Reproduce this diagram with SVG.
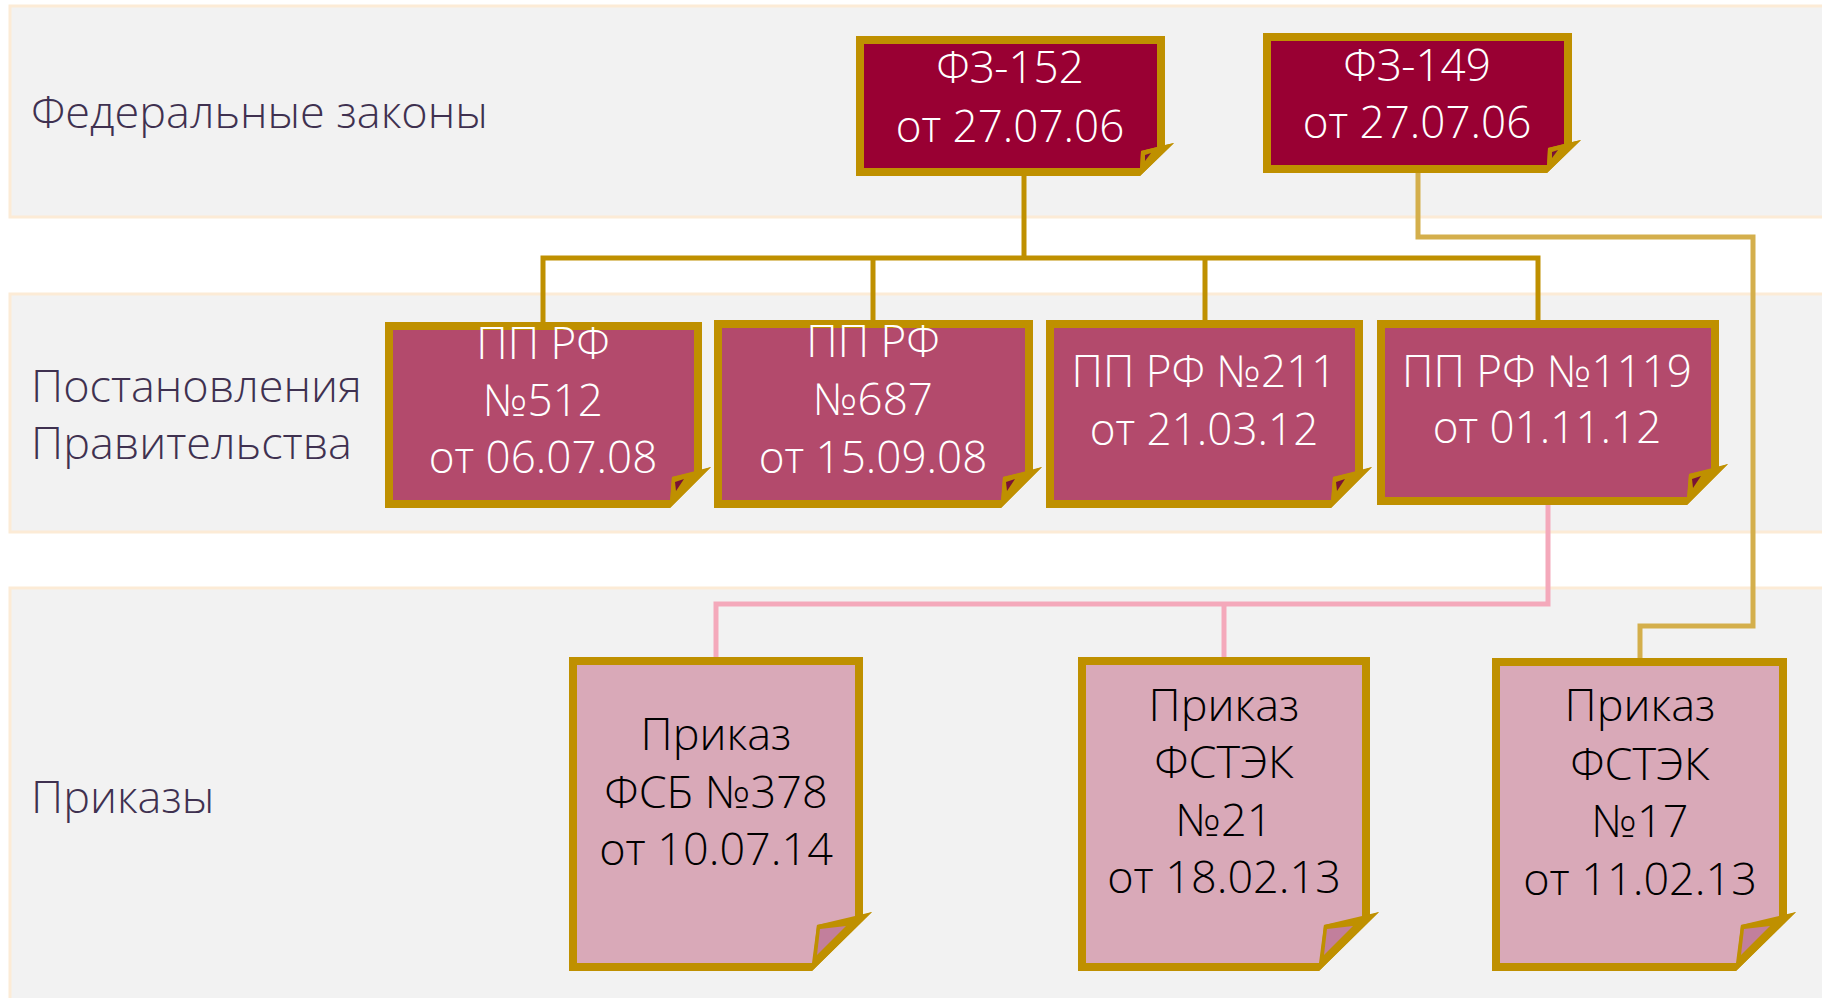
<svg xmlns="http://www.w3.org/2000/svg" width="1822" height="998" viewBox="0 0 1822 998">
<style>
.band{fill:#f2f2f2;stroke:#fcebd6;stroke-width:3}
.lbl{font-family:"Open Sans","Noto Sans",sans-serif;font-size:45px;fill:#3f3150;font-weight:300}
.gold{fill:#bf9000}
.fz{fill:#990033}
.pp{fill:#b34a6c}
.pr{fill:#d9a9b8}
.dk{fill:#7a1236}
.mv{fill:#c27f9c}
.tw{font-family:"Open Sans","Noto Sans",sans-serif;font-size:44px;fill:#ffffff;text-anchor:middle;font-weight:300}
.tb{font-family:"Open Sans","Noto Sans",sans-serif;font-size:45px;fill:#000000;text-anchor:middle;font-weight:300}
.c1{fill:none;stroke:#bf9000;stroke-width:5}
.c2{fill:none;stroke:#d4af4c;stroke-width:5}
.c3{fill:none;stroke:#f4a9bb;stroke-width:5}
</style>
<rect width="1822" height="998" fill="#ffffff"/>
<g id="bands">
<rect class="band" x="10" y="6" width="1820" height="211"/>
<rect class="band" x="10" y="294" width="1820" height="238"/>
<rect class="band" x="10" y="588" width="1820" height="420"/>
<text class="lbl" x="31" y="128">Федеральные законы</text>
<text class="lbl" x="31" y="402">Постановления</text>
<text class="lbl" x="31" y="459">Правительства</text>
<text class="lbl" x="31" y="813">Приказы</text>
</g>
<g id="connectors">
<path class="c1" d="M543,322 V258 H1538 V320 M873,258 V320 M1205,258 V320 M1024,176 V258"/>
<path class="c2" d="M1418,173 V237 H1753 V626 H1640 V658"/>
<path class="c3" d="M1548,505 V604 H716 V657 M1224,604 V657"/>
</g>
<g id="fz152">
<polygon class="gold" points="856,36 1165,36 1165,145 1174,143 1140,176 856,176"/>
<polygon class="fz" points="864,44 1157,44 1157,147 1141,151 1140,168 864,168"/>
<polygon class="gold" points="1140,176 1141,151 1174,143"/>
<polygon class="dk" points="1145,155 1151,153 1145,161"/>
<text class="tw" x="1010" y="83">ФЗ-152</text>
<text class="tw" x="1010" y="142">от 27.07.06</text>
</g>
<g id="fz149">
<polygon class="gold" points="1263,33 1572,33 1572,142 1581,140 1547,173 1263,173"/>
<polygon class="fz" points="1271,41 1564,41 1564,144 1548,148 1547,165 1271,165"/>
<polygon class="gold" points="1547,173 1548,148 1581,140"/>
<polygon class="dk" points="1552,152 1558,150 1552,158"/>
<text class="tw" x="1417" y="81">ФЗ-149</text>
<text class="tw" x="1417" y="138">от 27.07.06</text>
</g>
<g id="pp512">
<polygon class="gold" points="385,322 702,322 702,470 711,467 670,508 385,508"/>
<polygon class="pp" points="393,330 694,330 694,472 672,477 670,500 393,500"/>
<polygon class="gold" points="670,508 672,477 711,467"/>
<polygon class="dk" points="675,482 684,479 676,491"/>
<text class="tw" x="543" y="359">ПП РФ</text>
<text class="tw" x="543" y="416">№512</text>
<text class="tw" x="543" y="473">от 06.07.08</text>
</g>
<g id="pp687">
<polygon class="gold" points="714,320 1033,320 1033,470 1042,467 1001,508 714,508"/>
<polygon class="pp" points="722,328 1025,328 1025,472 1003,477 1001,500 722,500"/>
<polygon class="gold" points="1001,508 1003,477 1042,467"/>
<polygon class="dk" points="1006,482 1015,479 1007,491"/>
<text class="tw" x="873" y="357">ПП РФ</text>
<text class="tw" x="873" y="415">№687</text>
<text class="tw" x="873" y="473">от 15.09.08</text>
</g>
<g id="pp211">
<polygon class="gold" points="1046,320 1363,320 1363,470 1372,467 1331,508 1046,508"/>
<polygon class="pp" points="1054,328 1355,328 1355,472 1333,477 1331,500 1054,500"/>
<polygon class="gold" points="1331,508 1333,477 1372,467"/>
<polygon class="dk" points="1336,482 1345,479 1337,491"/>
<text class="tw" x="1204" y="387">ПП РФ №211</text>
<text class="tw" x="1204" y="445">от 21.03.12</text>
</g>
<g id="pp1119">
<polygon class="gold" points="1377,320 1719,320 1719,467 1728,464 1687,505 1377,505"/>
<polygon class="pp" points="1385,328 1711,328 1711,469 1689,474 1687,497 1385,497"/>
<polygon class="gold" points="1687,505 1689,474 1728,464"/>
<polygon class="dk" points="1692,479 1701,476 1693,488"/>
<text class="tw" x="1547" y="387">ПП РФ №1119</text>
<text class="tw" x="1547" y="443">от 01.11.12</text>
</g>
<g id="fsb378">
<polygon class="gold" points="569,657 863,657 863,915 872,912 812,971 569,971"/>
<polygon class="pr" points="577,665 855,665 855,918 817,925 812,963 577,963"/>
<polygon class="gold" points="812,971 817,925 872,912"/>
<polygon class="mv" points="820,929 846,926 817,955"/>
<text class="tb" x="716" y="750">Приказ</text>
<text class="tb" x="716" y="808">ФСБ №378</text>
<text class="tb" x="716" y="865">от 10.07.14</text>
</g>
<g id="fstek21">
<polygon class="gold" points="1078,657 1370,657 1370,915 1379,912 1319,971 1078,971"/>
<polygon class="pr" points="1086,665 1362,665 1362,918 1324,925 1319,963 1086,963"/>
<polygon class="gold" points="1319,971 1324,925 1379,912"/>
<polygon class="mv" points="1327,929 1353,926 1324,955"/>
<text class="tb" x="1224" y="721">Приказ</text>
<text class="tb" x="1224" y="778">ФСТЭК</text>
<text class="tb" x="1224" y="836">№21</text>
<text class="tb" x="1224" y="893">от 18.02.13</text>
</g>
<g id="fstek17">
<polygon class="gold" points="1492,658 1787,658 1787,915 1796,912 1736,971 1492,971"/>
<polygon class="pr" points="1500,666 1779,666 1779,918 1741,925 1736,963 1500,963"/>
<polygon class="gold" points="1736,971 1741,925 1796,912"/>
<polygon class="mv" points="1744,929 1770,926 1741,955"/>
<text class="tb" x="1640" y="721">Приказ</text>
<text class="tb" x="1640" y="780">ФСТЭК</text>
<text class="tb" x="1640" y="837">№17</text>
<text class="tb" x="1640" y="895">от 11.02.13</text>
</g>
</svg>
